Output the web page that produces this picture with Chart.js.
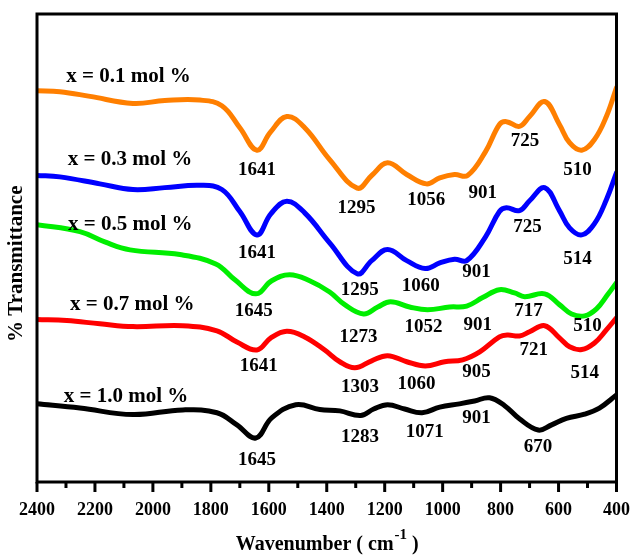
<!DOCTYPE html>
<html><head><meta charset="utf-8">
<script src="https://cdn.jsdelivr.net/npm/chart.js@4.4.1/dist/chart.umd.min.js"></script>
<style>html,body{margin:0;padding:0;background:#fff}#wrap{width:632px;height:556px;position:relative}</style>
</head><body><div id="wrap"><canvas id="c"></canvas></div>
<script>
// Series (wavenumber, % transmittance in arbitrary offset units)
const seriesNames = ['x = 0.1 mol %','x = 0.3 mol %','x = 0.5 mol %','x = 0.7 mol %','x = 1.0 mol %'];
const seriesColors = ['#FF7F00','#0000FF','#00EE00','#FF0000','#000000'];

const wn01 = [2400,2321,2217,2069,1959,1838,1762,1700,1641,1595,1538,1476,1390,1295,1245,1190,1124,1056,1010,959,914,852,804,780,735,700,648,597,562,520,476,435,400];
const t01  = [83.6,83.4,82.4,80.9,81.5,81.6,80.4,75.7,70.9,74.7,78.1,75.7,68.9,62.8,65.5,68.2,65.7,63.7,65.0,65.7,65.5,70.6,76.4,77.0,76.0,78.1,81.3,76.4,72.5,70.9,73.2,78.1,84.3];

const wn03 = [2400,2321,2183,2069,1959,1838,1762,1700,1641,1593,1538,1476,1390,1295,1245,1190,1124,1060,1010,959,917,852,804,780,735,700,648,597,562,520,476,435,400];
const t03  = [65.5,65.2,63.7,62.5,62.9,63.4,62.5,57.8,52.8,57.3,60.0,57.5,51.1,44.5,47.3,49.7,47.3,45.6,46.8,47.6,47.3,52.4,57.8,58.6,58.0,60.1,62.9,58.0,54.3,52.8,55.2,60.3,66.1];

const wn05 = [2400,2252,2166,2079,1907,1783,1717,1645,1590,1528,1459,1390,1338,1273,1224,1180,1114,1052,976,917,862,804,752,717,648,597,555,510,469,431,400];
const t05  = [55.0,53.5,51.3,49.6,48.6,46.6,43.2,40.2,43.0,44.3,43.0,40.6,37.9,35.9,37.4,38.5,37.4,36.8,37.4,37.6,39.4,41.1,40.4,39.6,40.2,37.9,35.9,35.5,37.0,40.0,42.6];

const wn07 = [2400,2297,2183,2069,1897,1779,1710,1641,1593,1538,1476,1407,1355,1303,1245,1190,1124,1060,993,931,872,804,776,735,700,648,597,562,520,476,435,400];
const t07  = [34.7,34.5,33.8,33.2,33.4,32.3,29.9,28.2,30.8,32.2,31.0,28.2,25.7,24.4,25.9,27.0,25.7,24.8,25.7,26.1,27.8,31.0,31.4,31.2,32.1,33.4,30.8,28.9,28.3,29.7,32.5,35.1];

const wn10 = [2400,2252,2069,1897,1779,1710,1645,1590,1507,1424,1355,1283,1238,1190,1131,1071,1010,942,890,838,786,735,670,624,573,510,459,400];
const t10  = [16.7,15.8,14.4,15.4,14.8,12.2,9.4,13.7,16.5,15.5,15.2,14.2,15.6,16.5,15.6,14.8,16.0,16.7,17.3,18.0,16.3,13.5,11.1,12.2,13.6,14.5,15.8,18.6];

// Series name label anchors (data coords)
const nameWn = [2084,2079,2078,2071,2093];
const nameT  = [86.6,68.9,55.1,38.0,18.3];

// Peak annotations
const peakText = ['1641','1295','1056','901','725','510',
                  '1641','1295','1060','901','725','514',
                  '1645','1273','1052','901','717','510',
                  '1641','1303','1060','905','721','514',
                  '1645','1283','1071','901','670'];
const peakWn = [1641,1297,1057,862,716,535,
                1641,1286,1076,883,707,535,
                1652,1290,1066,879,704,500,
                1635,1285,1090,883,686,510,
                1641,1285,1062,883,671];
const peakT  = [66.7,58.6,60.3,61.8,72.9,66.7,
                49.0,41.1,41.9,44.9,54.5,47.6,
                36.6,31.0,33.2,33.6,36.5,33.4,
                24.8,20.3,21.0,23.5,28.2,23.3,
                4.7,9.6,10.7,13.6,7.5];

const xTicksMin = 400, xTicksMax = 2400;
const SERIF = '"Liberation Serif","Times New Roman",serif';

function pts(w,t){ return w.map((v,i)=>({x:v,y:t[i]})); }
const allWn = [wn01,wn03,wn05,wn07,wn10];
const allT  = [t01,t03,t05,t07,t10];

const datasets = allWn.map((w,i)=>({
  label: seriesNames[i],
  data: pts(w, allT[i]),
  borderColor: seriesColors[i],
  borderWidth: 5,
  pointRadius: 0,
  fill: false,
  tension: 0.4,
  borderCapStyle: 'round',
  borderJoinStyle: 'round'
}));

const decor = {
  id: 'decor',
  afterDatasetsDraw(chart){
    const {ctx, chartArea:a, scales:{x,y}} = chart;
    ctx.save();
    ctx.strokeStyle = '#000'; ctx.lineWidth = 3;
    ctx.strokeRect(a.left, a.top, a.right-a.left, a.bottom-a.top);
    x.ticks.forEach(t=>{
      const px = x.getPixelForValue(t.value);
      const len = (t.value % 200 === 0) ? 10 : 6;
      ctx.beginPath(); ctx.moveTo(px, a.bottom); ctx.lineTo(px, a.bottom+len); ctx.stroke();
    });
    ctx.fillStyle = '#000';
    ctx.textAlign = 'center'; ctx.textBaseline = 'middle';
    ctx.font = 'bold 21px ' + SERIF;
    seriesNames.forEach((s,i)=>{
      ctx.fillText(s, x.getPixelForValue(nameWn[i]), y.getPixelForValue(nameT[i]));
    });
    ctx.font = 'bold 19px ' + SERIF;
    peakText.forEach((s,i)=>{
      ctx.fillText(s, x.getPixelForValue(peakWn[i]), y.getPixelForValue(peakT[i]));
    });
    // x axis title with superscript
    const cx = (a.left + a.right)/2 + 0;
    const ty = 545;
    const p1 = 'Wavenumber ( cm', sup = '-1', p2 = ' )';
    ctx.font = 'bold 20px ' + SERIF;
    const w1 = ctx.measureText(p1).width, w3 = ctx.measureText(p2).width;
    ctx.font = 'bold 15px ' + SERIF;
    const w2 = ctx.measureText(sup).width;
    let sx = cx - (w1+w2+w3)/2;
    ctx.textAlign = 'left';
    ctx.font = 'bold 20px ' + SERIF;
    ctx.fillText(p1, sx, ty);
    ctx.font = 'bold 15px ' + SERIF;
    ctx.fillText(sup, sx + w1 + 1, ty - 10);
    ctx.font = 'bold 20px ' + SERIF;
    ctx.fillText(p2, sx + w1 + w2 + 1, ty);
    ctx.restore();
  }
};

new Chart(document.getElementById('c'), {
  type: 'line',
  data: { datasets },
  options: {
    responsive: true,
    maintainAspectRatio: false,
    animation: false,
    layout: { padding: { top: 14, right: 0, bottom: 0, left: 0 } },
    plugins: { legend: { display: false }, tooltip: { enabled: false } },
    scales: {
      x: {
        type: 'linear', reverse: true, min: xTicksMin, max: xTicksMax,
        grid: { display: true, drawOnChartArea: false, drawTicks: true, tickLength: 16, color: 'rgba(0,0,0,0)' },
        border: { display: false },
        ticks: {
          stepSize: 100, autoSkip: false, maxRotation: 0, padding: 2,
          color: '#000', font: { family: SERIF, size: 18, weight: 'bold' },
          callback: v => (v % 200 === 0 ? String(v) : '')
        },
        afterFit(s){ s.height = 74; }
      },
      y: {
        min: 0, max: 100,
        grid: { display: false, drawTicks: false },
        border: { display: false },
        ticks: { display: false },
        title: { display: true, text: '% Transmittance      ', color: '#000',
                 font: { family: SERIF, size: 21, weight: 'bold' }, padding: { top: 4, bottom: 0 } },
        afterFit(s){ s.width = 37; }
      }
    }
  },
  plugins: [decor]
});
</script>
</body></html>
